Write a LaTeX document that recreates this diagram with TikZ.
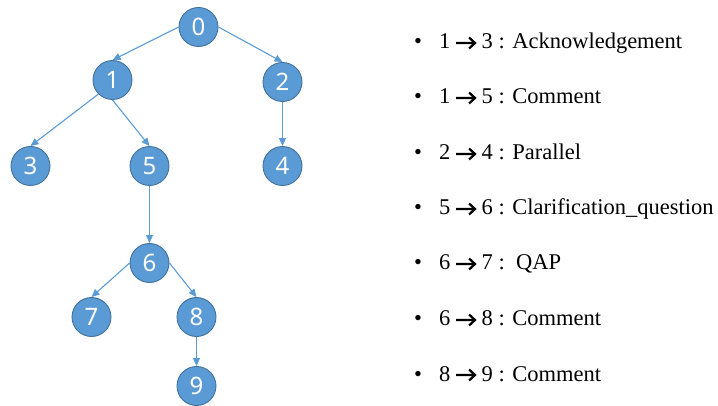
\documentclass[tikz,border=0pt]{standalone}
\usepackage{fontspec}
\setmainfont{Liberation Serif}
\newfontfamily\nodefont{Noto Sans}
\usetikzlibrary{arrows.meta}
\definecolor{nodefill}{HTML}{5B9BD5}
\definecolor{nodeedge}{HTML}{41719C}
\definecolor{edgecol}{HTML}{5B9BD5}
\tikzset{
  tnode/.style={circle, fill=nodefill, draw=nodeedge, line width=0.9pt, minimum size=39pt, inner sep=0pt, text=white, font=\nodefont\fontsize{24}{24}\selectfont},
  tedge/.style={draw=edgecol, line width=1.1pt, -{Triangle[length=8pt,width=7pt]}},
  item/.style={anchor=base west, inner sep=0pt, font=\fontsize{22.5}{24}\selectfont}
}
\newcommand{\rarr}{\hspace{4.5pt}\tikz[x=1pt,y=1pt,baseline=0pt]{\draw[line width=2.2pt, line cap=butt, line join=miter] (0,6) -- (19,6) (13,0.5) -- (19,6) -- (13,11.5);}\hspace{5.5pt}}
\newcommand{\bul}{\makebox[25pt][l]{•}}
\begin{document}
\begin{tikzpicture}[x=1pt,y=-1pt]
\useasboundingbox (0,0) rectangle (718,406);
\node[tnode] (n0) at (198.5,27) {0};
\node[tnode] (n1) at (112.5,80) {1};
\node[tnode] (n2) at (282.5,82) {2};
\node[tnode] (n3) at (30.5,166) {3};
\node[tnode] (n5) at (149.5,166) {5};
\node[tnode] (n4) at (282.5,166) {4};
\node[tnode] (n6) at (149.5,263) {6};
\node[tnode] (n7) at (91.5,317) {7};
\node[tnode] (n8) at (196.5,317) {8};
\node[tnode] (n9) at (196.5,386) {9};
\draw[tedge] (n0.west) -- (n1.north);
\draw[tedge] (n0.east) -- (n2.north);
\draw[tedge] (n1.south west) -- (n3.north);
\draw[tedge] (n1.south) -- (n5.north);
\draw[tedge] (n2.south) -- (n4.north);
\draw[tedge] (n5.south) -- (n6.north);
\draw[tedge] (n6.west) -- (n7.north);
\draw[tedge] (n6.east) -- (n8.north);
\draw[tedge] (n8.south) -- (n9.north);
\node[item] (l1) at (414,49) {\bul 1\rarr 3 : Acknowledgement};
\node[item] (l2) at (414,104) {\bul 1\rarr 5 : Comment};
\node[item] (l3) at (414,160) {\bul 2\rarr 4 : Parallel};
\node[item] (l4) at (414,215) {\bul 5\rarr 6 : Clarification\_question};
\node[item] (l5) at (414,270) {\bul 6\rarr 7 :\ \ QAP};
\node[item] (l6) at (414,326) {\bul 6\rarr 8 : Comment};
\node[item] (l7) at (414,381) {\bul 8\rarr 9 : Comment};
\end{tikzpicture}
\end{document}
